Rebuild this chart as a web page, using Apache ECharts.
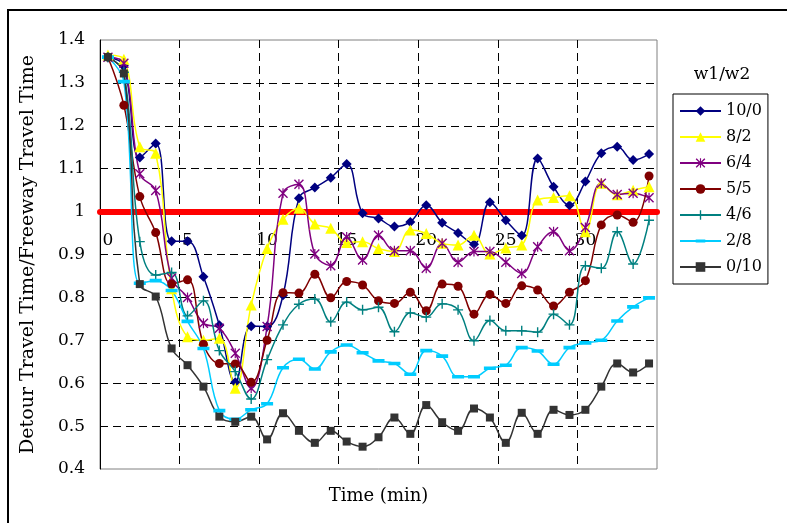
<!DOCTYPE html>
<html><head><meta charset="utf-8">
<script src="https://cdn.jsdelivr.net/npm/echarts@6/dist/echarts.min.js"></script>
<style>html,body{margin:0;padding:0;background:#fff}#c{width:787px;height:523px}</style>
</head><body><div id="c"></div>
<script>
// ---- data ----
const minutes = ['0','1','2','3','4','5','6','7','8','9','10','11','12','13','14','15','16','17','18','19','20','21','22','23','24','25','26','27','28','29','30','31','32','33','34'];
const seriesNames = ['10/0','8/2','6/4','5/5','4/6','2/8','0/10'];
const w10_0 = [1.36,1.34,1.126,1.159,0.931,0.931,0.848,0.735,0.602,0.733,0.732,0.805,1.031,1.056,1.079,1.111,0.996,0.984,0.965,0.976,1.015,0.974,0.950,0.924,1.022,0.980,0.944,1.124,1.058,1.015,1.070,1.136,1.151,1.120,1.134];
const w8_2  = [1.365,1.355,1.151,1.136,0.82,0.708,0.70,0.705,0.588,0.782,0.914,0.982,1.008,0.971,0.961,0.928,0.930,0.914,0.907,0.957,0.949,0.926,0.922,0.945,0.901,0.915,0.922,1.027,1.033,1.037,0.953,1.066,1.039,1.050,1.058];
const w6_4  = [1.36,1.346,1.088,1.049,0.845,0.80,0.74,0.728,0.670,0.588,0.732,1.043,1.064,0.901,0.874,0.941,0.887,0.945,0.909,0.909,0.868,0.926,0.882,0.907,0.907,0.882,0.856,0.918,0.953,0.909,0.963,1.066,1.040,1.043,1.032];
const w5_5  = [1.36,1.248,1.035,0.951,0.831,0.841,0.691,0.646,0.645,0.602,0.70,0.811,0.810,0.854,0.799,0.837,0.829,0.792,0.786,0.812,0.769,0.831,0.826,0.761,0.807,0.786,0.827,0.817,0.780,0.812,0.839,0.969,0.992,0.975,1.083];
const w4_6  = [1.36,1.325,0.930,0.852,0.858,0.757,0.792,0.676,0.627,0.563,0.655,0.736,0.784,0.796,0.743,0.789,0.771,0.777,0.720,0.764,0.754,0.785,0.771,0.699,0.746,0.722,0.722,0.719,0.761,0.736,0.874,0.868,0.953,0.878,0.980];
const w2_8  = [1.36,1.303,0.833,0.839,0.816,0.744,0.681,0.536,0.516,0.538,0.552,0.636,0.656,0.633,0.673,0.689,0.671,0.652,0.646,0.621,0.676,0.663,0.615,0.615,0.635,0.642,0.683,0.675,0.644,0.683,0.694,0.700,0.745,0.778,0.799];
const w0_10 = [1.36,1.322,0.831,0.802,0.681,0.642,0.592,0.522,0.510,0.522,0.469,0.530,0.489,0.461,0.489,0.464,0.452,0.474,0.520,0.482,0.549,0.509,0.489,0.541,0.520,0.461,0.531,0.482,0.538,0.526,0.538,0.592,0.646,0.625,0.646];
const yMin = 0.4, yMax = 1.4, yStep = 0.1;

// ---- styles ----
const F = "'DejaVu Serif', serif";
const colors = ['#000080','#FFFF00','#800080','#800000','#008080','#00CCFF','#333333'];
const asterisk = 'path://M0,1L1,0L10,9L9,10Z M9,0L10,1L1,10L0,9Z M4.4,0H5.6V10H4.4Z';
const plus = 'path://M4.3,0H5.7V10H4.3Z M0,4.3H10V5.7H0Z';
const dash = 'path://M0,0L0,0.01L0.01,0Z M0,4.2H12V7.8H0Z M12,12L12,11.99L11.99,12Z';
const symbols = [
  {symbol:'diamond', size:10},
  {symbol:'triangle', size:11},
  {symbol:asterisk, size:10},
  {symbol:'circle', size:9},
  {symbol:plus, size:10},
  {symbol:dash, size:12},
  {symbol:'rect', size:8}
];
const allData = [w10_0, w8_2, w6_4, w5_5, w4_6, w2_8, w0_10];

const chart = echarts.init(document.getElementById('c'), null, {renderer:'canvas'});
const series = seriesNames.map((n,i)=>({
  name:n, type:'line', data:allData[i], smooth:0.4,
  symbol:symbols[i].symbol, symbolSize:symbols[i].size, symbolKeepAspect:true,
  showAllSymbol:true,
  lineStyle:{color:colors[i], width:1.5},
  itemStyle:{color:colors[i]},
  emphasis:{disabled:true}
}));

chart.setOption({
  animation:false,
  textStyle:{fontFamily:F},
  graphic:[
    {type:'rect', silent:true, shape:{x:8,y:10,width:900,height:700}, style:{fill:'none', stroke:'#000', lineWidth:2}},
    {type:'text', silent:true, x:722, y:75, style:{text:'w1/w2', fill:'#000', font:"17px 'DejaVu Serif'", textAlign:'center', textVerticalAlign:'middle'}}
  ],
  grid:{left:100, right:130, top:40, bottom:54, show:true, borderColor:'#808080', borderWidth:1, backgroundColor:'transparent'},
  legend:{
    orient:'vertical', left:673, top:94, padding:[8,6,8,6], itemGap:8, itemWidth:41, itemHeight:12,
    borderColor:'#000', borderWidth:1,
    textStyle:{fontSize:16, fontFamily:F, color:'#000', lineHeight:18},
    data:seriesNames
  },
  xAxis:{
    type:'category', data:minutes, boundaryGap:true, position:'bottom', offset:-257.4,
    axisLine:{show:true, lineStyle:{color:'#FF0000', width:6}},
    axisTick:{show:false},
    axisLabel:{interval:4, margin:20, color:'#000', fontSize:17, fontFamily:F},
    splitLine:{show:true, interval:4, showMinLine:false, showMaxLine:false, lineStyle:{color:'#000', type:[8,5], width:1}},
    name:'Time (min)', nameLocation:'middle', nameGap:276,
    nameTextStyle:{fontSize:18, fontFamily:F, color:'#000'}
  },
  yAxis:{
    type:'value', min:yMin, max:yMax, interval:yStep,
    axisLine:{show:true, lineStyle:{color:'#000', width:1}},
    axisTick:{show:false},
    axisLabel:{margin:15, color:'#000', fontSize:17, fontFamily:F, formatter:v=>String(Math.round(v*10)/10)},
    splitLine:{show:true, showMinLine:false, showMaxLine:false, lineStyle:{color:'#000', type:[8,5], width:1}},
    name:'Detour Travel Time/Freeway Travel Time', nameLocation:'middle', nameGap:62, nameRotate:90,
    nameTextStyle:{fontSize:19, fontFamily:F, color:'#000'}
  },
  series:series
});
</script>
</body></html>
